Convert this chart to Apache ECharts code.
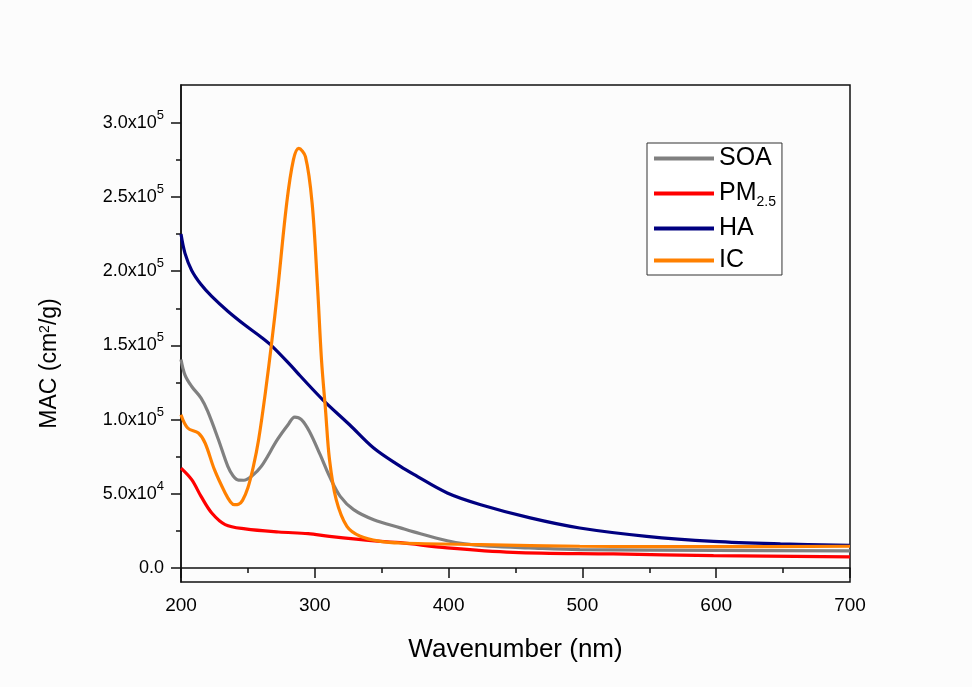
<!DOCTYPE html>
<html>
<head>
<meta charset="utf-8">
<script src="https://cdn.jsdelivr.net/npm/echarts@6/dist/echarts.min.js"></script>
<style>
  html, body { margin: 0; padding: 0; background: #fcfcfc; }
  #chart { width: 972px; height: 687px; }
</style>
</head>
<body>
<div id="chart"></div>
<script>
// wavelength (nm) / MAC (cm2/g) pairs
const soaWave = [200, 203, 208, 215, 220, 228, 235, 239, 243, 247, 253, 260, 272, 280, 285, 290, 296, 304, 311, 319, 329, 344, 364, 374, 399, 412, 430, 460, 498, 600, 700]
const soaMac = [140500, 130000, 122300, 114500, 105500, 86400, 68400, 62000, 59200, 59100, 62000, 68400, 86400, 96500, 101700, 100000, 92000, 76300, 61700, 48200, 39300, 32500, 27000, 24300, 18300, 16200, 14700, 13500, 12300, 11800, 11500]

const pmWave = [200, 208, 215, 223, 233, 248, 273, 295, 311, 349, 364, 399, 448, 523, 598, 700]
const pmMac = [67300, 59500, 48200, 37000, 29200, 26300, 24200, 23100, 21300, 17900, 17000, 13500, 10500, 9400, 8300, 7400]

const haWave = [200, 203, 208, 215, 223, 235, 248, 260, 268, 282, 289, 306, 326, 344, 364, 374, 399, 424, 461, 498, 548, 598, 648, 700]
const haMac = [225000, 212000, 200500, 191000, 183000, 173000, 163500, 155500, 149500, 136500, 129500, 113300, 96500, 80800, 68400, 63000, 50500, 42600, 33700, 26900, 21300, 17900, 16200, 15200]

const icWave = [200, 205, 213, 218, 225, 233, 237, 240, 243, 246, 250, 254, 258, 263, 268, 272, 279, 284, 288, 293, 298, 302, 305, 308, 311, 316, 324, 334, 349, 364, 424, 498, 600, 700]
const icMac = [103200, 94300, 90900, 84200, 66200, 50500, 44500, 42600, 42900, 45500, 54000, 68000, 86400, 117800, 153700, 185200, 245800, 275000, 282800, 277200, 245800, 190000, 140300, 106600, 72900, 46000, 28000, 21300, 17900, 16800, 15700, 14600, 14300, 14600]

const seriesNames = ['SOA', 'PM2.5', 'HA', 'IC']
const seriesColors = ['#808080', '#ff0000', '#000080', '#ff8000']

const yLabelValues = [0, 50000, 100000, 150000, 200000, 250000, 300000]
const yMinorValues = [25000, 75000, 125000, 175000, 225000, 275000]

const font = '"Liberation Sans", Arial, sans-serif'

const pairs = (xs, ys) => xs.map((x, i) => [x, ys[i]])

const sciLabel = (v) => {
	if (v === 0) return '0.0'
	const e = Math.floor(Math.log10(v))
	return (v / Math.pow(10, e)).toFixed(1) + 'x10{sup|' + e + '}'
}

const legendLabel = (name) => (name === 'PM2.5' ? 'PM{sub|2.5}' : name)

const chart = echarts.init(document.getElementById('chart'))

const lineSeries = (name, data, i) => ({
	name: name,
	type: 'line',
	data: data,
	showSymbol: false,
	smooth: 0.35,
	lineStyle: { width: 3.2, color: seriesColors[i] },
	itemStyle: { color: seriesColors[i] },
	emphasis: { disabled: true },
})

const option = {
	animation: false,
	backgroundColor: '#fcfcfc',
	textStyle: { fontFamily: font },
	grid: {
		left: 181,
		right: 122,
		top: 85,
		bottom: 105,
		show: true,
		borderColor: '#111',
		borderWidth: 1.5,
	},
	legend: {
		orient: 'vertical',
		left: 647,
		top: 143,
		padding: [3, 6, 2, 7],
		itemWidth: 60,
		itemHeight: 4,
		itemGap: 7,
		borderColor: '#333',
		borderWidth: 1,
		backgroundColor: '#fff',
		icon: 'rect',
		data: seriesNames.map((n, i) => ({ name: n, itemStyle: { color: seriesColors[i] } })),
		formatter: legendLabel,
		textStyle: {
			fontFamily: font,
			fontSize: 25,
			color: '#000',
			lineHeight: 25,
			rich: {
				sub: { fontSize: 14, verticalAlign: 'bottom', lineHeight: 31, fontFamily: font, color: '#000' },
			},
		},
	},
	xAxis: {
		type: 'value',
		min: 200,
		max: 700,
		interval: 100,
		name: 'Wavenumber (nm)',
		nameLocation: 'middle',
		nameGap: 55,
		nameTextStyle: { fontSize: 26, color: '#000', fontFamily: font },
		axisLine: { show: true, lineStyle: { color: '#111', width: 1.5 } },
		axisTick: { show: true, inside: false, length: 10, lineStyle: { color: '#111', width: 1.5 } },
		minorTick: { show: true, splitNumber: 2, length: 5, lineStyle: { color: '#111', width: 1.5 } },
		splitLine: { show: false },
		axisLabel: { fontSize: 19, color: '#000', margin: 14, fontFamily: font },
	},
	yAxis: [
		{
			type: 'value',
			min: -9500,
			max: 325500,
			name: 'MAC (cm{sup|2}/g)',
			nameLocation: 'middle',
			nameGap: 120,
			nameTextStyle: {
				fontSize: 23,
				color: '#000',
				fontFamily: font,
				padding: [0, 60, 0, 0],
				rich: { sup: { fontSize: 14, verticalAlign: 'top', fontFamily: font, color: '#000' } },
			},
			axisLine: { show: true, lineStyle: { color: '#111', width: 1.5 } },
			axisTick: { show: true, length: 10, customValues: yLabelValues, lineStyle: { color: '#111', width: 1.5 } },
			splitLine: { show: false },
			axisLabel: {
				customValues: yLabelValues,
				formatter: sciLabel,
				fontSize: 18,
				color: '#000',
				margin: 17,
				fontFamily: font,
				lineHeight: 28,
				rich: { sup: { fontSize: 13, verticalAlign: 'top', fontFamily: font, color: '#000' } },
			},
		},
		{
			type: 'value',
			min: -9500,
			max: 325500,
			position: 'left',
			axisLine: { show: false },
			axisTick: { show: true, length: 5, customValues: yMinorValues, lineStyle: { color: '#111', width: 1.5 } },
			axisLabel: { show: false },
			splitLine: { show: false },
		},
	],
	series: [
		lineSeries('SOA', pairs(soaWave, soaMac), 0),
		lineSeries('PM2.5', pairs(pmWave, pmMac), 1),
		lineSeries('HA', pairs(haWave, haMac), 2),
		lineSeries('IC', pairs(icWave, icMac), 3),
	],
}

chart.setOption(option)
</script>
</body>
</html>
